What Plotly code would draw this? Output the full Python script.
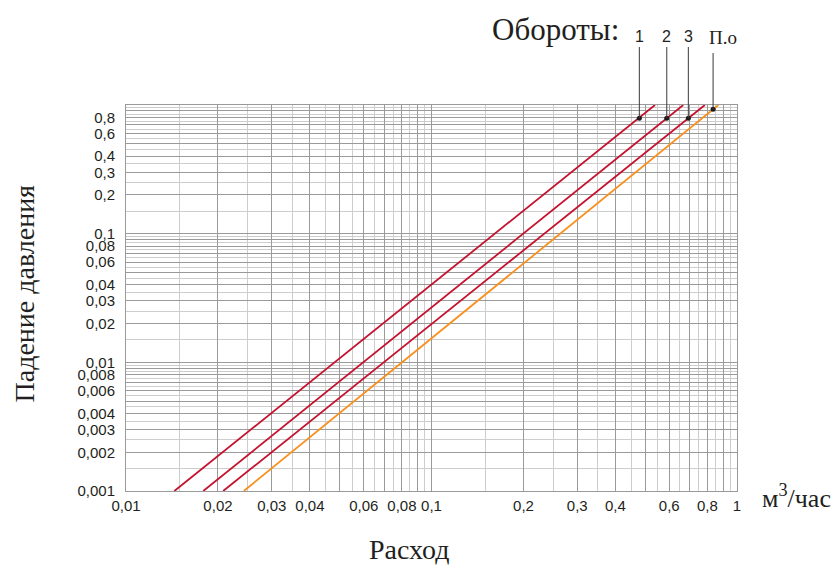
import math
import plotly.graph_objects as go

# ---- data ----
series_names = ["1", "2", "3", "П.о"]
series_colors = ["#C4122F", "#C4122F", "#C4122F", "#F7901E"]
dp_points = [0.001, 1.0]                      # pressure drop at both ends of each line
flow_at_low = [0.0144, 0.0179, 0.0208, 0.0243]  # flow at dp = 0.001
flow_at_high = [0.539, 0.667, 0.785, 0.869]     # flow at dp = 1
marker_flow = [0.479, 0.589, 0.693, 0.835]
marker_dp = [0.79, 0.79, 0.79, 0.925]

x_tickvals = [0.01, 0.02, 0.03, 0.04, 0.05, 0.06, 0.07, 0.08, 0.09,
              0.1, 0.2, 0.3, 0.4, 0.5, 0.6, 0.7, 0.8, 0.9, 1]
x_ticktext = ["0,01", "0,02", "0,03", "0,04", "", "0,06", "", "0,08", "",
              "0,1", "0,2", "0,3", "0,4", "", "0,6", "", "0,8", "", "1"]
y_tickvals = [0.001, 0.002, 0.003, 0.004, 0.005, 0.006, 0.007, 0.008, 0.009,
              0.01, 0.02, 0.03, 0.04, 0.05, 0.06, 0.07, 0.08, 0.09,
              0.1, 0.2, 0.3, 0.4, 0.5, 0.6, 0.7, 0.8, 0.9, 1]
y_ticktext = ["0,001", "0,002", "0,003", "0,004", "", "0,006", "", "0,008", "",
              "0,01", "0,02", "0,03", "0,04", "", "0,06", "", "0,08", "",
              "0,1", "0,2", "0,3", "0,4", "", "0,6", "", "0,8", "", ""]
half_steps = [1.5, 2.5, 3.5, 4.5, 5.5, 6.5, 7.5, 8.5, 9.5]
x_minor = [h * d for d in (0.01, 0.1) for h in half_steps]
y_minor = [h * d for d in (0.001, 0.01, 0.1) for h in half_steps]

# ---- layout geometry (page has an 8px body margin) ----
OFF = 8
W, H = 839, 565
PLOT_L, PLOT_T, PW, PH = 126, 105, 611, 386   # target position on the page
ML = PLOT_L - OFF
MT = PLOT_T - OFF
MR = W - ML - PW
MB = H - MT - PH
Y_DEC = 3.0

SERIF = "Liberation Serif, Times New Roman, serif"
SANS = "Liberation Sans, Arial, sans-serif"
TXT = "#231f20"

def px_x(px):   # page pixel -> paper x
    return (px - PLOT_L) / PW

def px_y(py):   # page pixel -> paper y
    return (PLOT_T + PH - py) / PH

fig = go.Figure()
for name, col, lo, hi in zip(series_names, series_colors, flow_at_low, flow_at_high):
    fig.add_trace(go.Scatter(x=[lo, hi], y=dp_points, mode="lines",
                             line=dict(color=col, width=1.8), name=name,
                             showlegend=False, hoverinfo="skip"))
fig.add_trace(go.Scatter(x=marker_flow, y=marker_dp, mode="markers",
                         marker=dict(color="#1a1a1a", size=5), showlegend=False,
                         hoverinfo="skip", cliponaxis=False))

def dot_py(v):
    return PLOT_T + (0 - math.log10(v)) * PH / Y_DEC

label_py = 37
annotations = []
for i in range(3):
    annotations.append(dict(
        x=math.log10(marker_flow[i]), y=math.log10(marker_dp[i]), xref="x", yref="y",
        text=series_names[i], showarrow=True, arrowhead=0, arrowwidth=1,
        arrowcolor="#3a3a3a", ax=0, ay=label_py - dot_py(marker_dp[i]),
        font=dict(family=SANS, size=16, color=TXT)))
# leader for П.о (vertical line, label offset to the right)
annotations.append(dict(
    x=math.log10(marker_flow[3]), y=math.log10(marker_dp[3]), xref="x", yref="y",
    text=" ", showarrow=True, arrowhead=0, arrowwidth=1, arrowcolor="#3a3a3a",
    ax=0, ay=50 - dot_py(marker_dp[3]), font=dict(size=2)))

def label(text, px, py, font, **kw):
    d = dict(x=px_x(px), y=px_y(py), xref="paper", yref="paper", text=text,
             showarrow=False, xanchor="center", yanchor="middle", font=font)
    d.update(kw)
    annotations.append(d)

label(series_names[3], 722.7, label_py, dict(family=SERIF, size=19, color=TXT))
label("Обороты:", 555, 30, dict(family=SERIF, size=31, color=TXT))
label("м<sup>3</sup>/час", 796, 496, dict(family=SERIF, size=26, color=TXT))
label("Расход", 409, 549, dict(family=SERIF, size=28, color=TXT))
label("Падение давления", 24, 293.5, dict(family=SERIF, size=28, color=TXT), textangle=-90)

axis_common = dict(type="log", showgrid=True, gridcolor="#9a9a9a", gridwidth=1,
                   showline=True, linecolor="#9a9a9a", linewidth=1, mirror=True,
                   zeroline=False, ticks="", tickmode="array", automargin=False,
                   tickfont=dict(family=SANS, size=15, color=TXT))
fig.update_xaxes(**axis_common, range=[-2, 0], tickvals=x_tickvals, ticktext=x_ticktext,
                 ticklabelstandoff=1,
                 minor=dict(tickmode="array", tickvals=x_minor, showgrid=True,
                            gridcolor="#cdcdcd", gridwidth=1, ticks=""))
fig.update_yaxes(**axis_common, range=[-3, 0], tickvals=y_tickvals, ticktext=y_ticktext,
                 ticklabelstandoff=7,
                 minor=dict(tickmode="array", tickvals=y_minor, showgrid=True,
                            gridcolor="#cdcdcd", gridwidth=1, ticks=""))

fig.update_layout(width=W, height=H, margin=dict(l=ML, r=MR, t=MT, b=MB, autoexpand=False),
                  paper_bgcolor="white", plot_bgcolor="white",
                  annotations=annotations, showlegend=False)
fig.write_html("out.html")
